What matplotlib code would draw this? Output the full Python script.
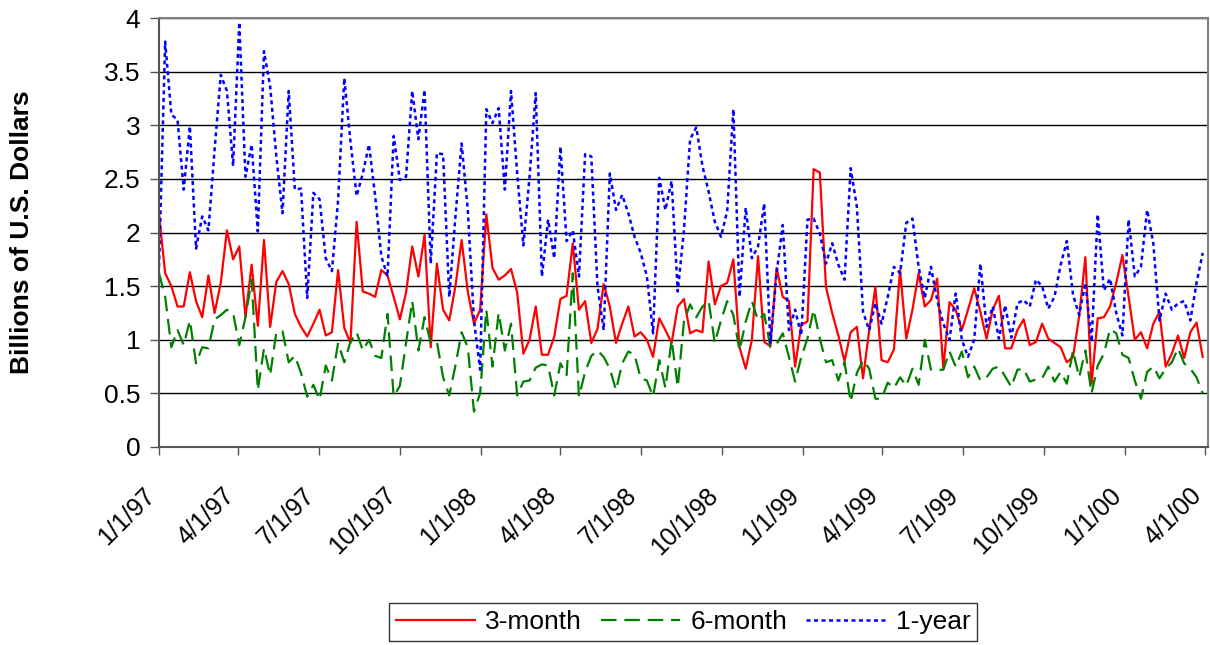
import matplotlib
matplotlib.use('Agg')
import matplotlib.pyplot as plt
import matplotlib.dates as mdates
from matplotlib.ticker import FuncFormatter, MultipleLocator
from matplotlib.transforms import blended_transform_factory, offset_copy
import pandas as pd

plt.rcParams['font.family'] = ['Liberation Sans', 'DejaVu Sans']

# weekly auction amounts, billions of US dollars, starting first week of 1997
three_month = [
    2.17, 1.62, 1.50, 1.31, 1.31, 1.63, 1.36, 1.21, 1.60, 1.25,
    1.53, 2.02, 1.75, 1.87, 1.21, 1.70, 1.13, 1.93, 1.12, 1.54,
    1.64, 1.52, 1.24, 1.12, 1.03, 1.15, 1.28, 1.04, 1.07, 1.65,
    1.11, 0.97, 2.10, 1.45, 1.43, 1.40, 1.65, 1.60, 1.40, 1.19,
    1.44, 1.87, 1.59, 1.98, 0.93, 1.71, 1.28, 1.18, 1.50, 1.93,
    1.45, 1.15, 1.28, 2.17, 1.67, 1.56, 1.60, 1.66, 1.44, 0.87,
    1.00, 1.31, 0.86, 0.86, 1.03, 1.38, 1.41, 1.90, 1.28, 1.36,
    0.97, 1.10, 1.52, 1.31, 0.97, 1.15, 1.31, 1.03, 1.07, 1.00,
    0.84, 1.20, 1.09, 0.97, 1.31, 1.38, 1.06, 1.09, 1.07, 1.73,
    1.33, 1.50, 1.53, 1.75, 0.93, 0.73, 1.00, 1.78, 0.98, 0.94,
    1.67, 1.40, 1.36, 0.75, 1.14, 1.17, 2.59, 2.56, 1.49, 1.25,
    1.04, 0.80, 1.07, 1.12, 0.64, 1.09, 1.49, 0.81, 0.79, 0.91,
    1.65, 1.01, 1.28, 1.62, 1.31, 1.37, 1.57, 0.73, 1.35, 1.28,
    1.09, 1.28, 1.48, 1.26, 1.01, 1.28, 1.41, 0.92, 0.92, 1.09,
    1.19, 0.95, 0.98, 1.15, 1.01, 0.97, 0.93, 0.79, 0.84, 1.22,
    1.77, 0.59, 1.20, 1.21, 1.31, 1.53, 1.79, 1.40, 1.00, 1.07,
    0.92, 1.15, 1.26, 0.75, 0.87, 1.04, 0.83, 1.07, 1.16, 0.84,
]

six_month = [
    1.62, 1.40, 0.93, 1.09, 0.95, 1.18, 0.78, 0.93, 0.92, 1.19,
    1.23, 1.28, 1.25, 0.95, 1.21, 1.56, 0.53, 0.92, 0.67, 1.07,
    1.08, 0.79, 0.85, 0.69, 0.47, 0.58, 0.44, 0.76, 0.62, 0.97,
    0.79, 0.98, 1.07, 0.90, 1.00, 0.85, 0.83, 1.24, 0.47, 0.57,
    0.97, 1.36, 0.90, 1.21, 0.97, 0.98, 0.65, 0.48, 0.76, 1.07,
    0.93, 0.33, 0.50, 1.28, 0.75, 1.25, 0.90, 1.15, 0.48, 0.61,
    0.62, 0.74, 0.77, 0.76, 0.48, 0.78, 0.67, 1.62, 0.47, 0.70,
    0.85, 0.90, 0.84, 0.73, 0.53, 0.78, 0.89, 0.86, 0.64, 0.62,
    0.47, 0.81, 0.55, 1.00, 0.56, 1.17, 1.33, 1.21, 1.31, 1.36,
    0.97, 1.18, 1.36, 1.23, 0.90, 1.17, 1.36, 1.18, 1.24, 0.93,
    0.96, 1.06, 0.84, 0.61, 0.84, 1.01, 1.28, 1.01, 0.79, 0.81,
    0.62, 0.79, 0.42, 0.69, 0.81, 0.73, 0.45, 0.45, 0.60, 0.55,
    0.65, 0.57, 0.73, 0.58, 1.00, 0.72, 0.72, 0.72, 0.89, 0.75,
    0.89, 0.65, 0.75, 0.62, 0.65, 0.73, 0.75, 0.66, 0.56, 0.72,
    0.73, 0.61, 0.63, 0.64, 0.75, 0.61, 0.70, 0.59, 0.90, 0.65,
    0.90, 0.50, 0.76, 0.87, 1.10, 1.06, 0.86, 0.83, 0.62, 0.45,
    0.70, 0.75, 0.64, 0.73, 0.79, 0.92, 0.78, 0.73, 0.65, 0.50,
]

one_year = [
    1.68, 3.78, 3.10, 3.05, 2.40, 2.99, 1.85, 2.15, 2.02, 2.77,
    3.47, 3.32, 2.62, 3.96, 2.52, 2.82, 2.01, 3.69, 3.36, 2.71,
    2.18, 3.32, 2.40, 2.41, 1.39, 2.37, 2.31, 1.76, 1.64, 2.30,
    3.44, 2.85, 2.34, 2.55, 2.82, 2.34, 1.78, 1.59, 2.90, 2.49,
    2.52, 3.32, 2.87, 3.33, 1.71, 2.74, 2.73, 1.40, 2.15, 2.83,
    2.21, 1.18, 0.72, 3.15, 3.02, 3.16, 2.40, 3.32, 2.55, 1.88,
    2.52, 3.30, 1.59, 2.12, 1.76, 2.80, 1.92, 2.02, 1.59, 2.73,
    2.71, 1.50, 1.09, 2.55, 2.21, 2.35, 2.18, 1.96, 1.81, 1.59,
    1.06, 2.51, 2.21, 2.48, 1.45, 2.02, 2.87, 2.98, 2.62, 2.38,
    2.10, 1.96, 2.20, 3.15, 1.40, 2.23, 1.76, 1.87, 2.27, 0.97,
    1.62, 2.07, 1.09, 1.28, 1.04, 2.12, 2.13, 1.99, 1.71, 1.90,
    1.70, 1.56, 2.60, 2.24, 1.26, 1.09, 1.34, 1.15, 1.40, 1.68,
    1.62, 2.09, 2.13, 1.68, 1.39, 1.68, 1.37, 1.15, 1.00, 1.43,
    1.00, 0.84, 1.00, 1.71, 1.12, 1.31, 1.01, 1.32, 1.02, 1.34,
    1.37, 1.31, 1.56, 1.50, 1.29, 1.40, 1.70, 1.92, 1.42, 1.23,
    1.53, 0.98, 2.17, 1.46, 1.57, 1.25, 1.04, 2.12, 1.59, 1.68,
    2.21, 1.90, 1.18, 1.43, 1.28, 1.34, 1.36, 1.18, 1.53, 1.81,
]

weeks = pd.date_range('1997-01-01', periods=len(three_month), freq='7D')
quarters = pd.date_range('1997-01-01', '2000-04-01', freq='QS')
quarter_labels = [f'{d.month}/{d.day}/{d.year % 100:02d}' for d in quarters]

fig = plt.figure(figsize=(12.1, 6.45), dpi=100)
ax = fig.add_axes([159 / 1210, 1 - 447 / 645, 1049 / 1210, 429 / 645])

l1, = ax.plot(weeks, three_month, color='#ff0000', lw=1.6, label='3-month')
l2, = ax.plot(weeks, six_month, color='#008000', lw=1.6, dashes=(7, 3.5), label='6-month')
l3, = ax.plot(weeks, one_year, color='#0000ff', lw=1.8, dashes=(1.6, 1.4), label='1-year')

ax.set_ylim(0, 4)
ax.set_xlim(pd.Timestamp('1997-01-01'), pd.Timestamp('2000-04-04'))
ax.yaxis.set_major_locator(MultipleLocator(0.5))
ax.yaxis.set_major_formatter(FuncFormatter(lambda v, p: f'{v:g}'))
ax.set_xticks(quarters)
ax.tick_params(axis='x', labelbottom=False)

ax.grid(axis='y', color='black', lw=1)
ax.set_axisbelow(True)
for side in ['top', 'right']:
    ax.spines[side].set_color('#808080')
    ax.spines[side].set_linewidth(1.5)
for side in ['left', 'bottom']:
    ax.spines[side].set_color('#555555')
    ax.spines[side].set_linewidth(1.5)

ax.tick_params(axis='y', length=6.5, width=1, color='#555555', labelsize=19, pad=7)
ax.tick_params(axis='x', length=6, width=1, color='#555555')

# rotated date labels, top-right corner placed down-left of each tick
lab_trans = offset_copy(blended_transform_factory(ax.transData, ax.transAxes),
                        fig=fig, x=-16, y=-36, units='dots')
for d, s in zip(quarters, quarter_labels):
    ax.text(d, 0, s, transform=lab_trans, rotation=45, rotation_mode='anchor',
            ha='right', va='top', fontsize=18, clip_on=False)

ax.set_ylabel('Billions of U.S. Dollars', fontsize=19, fontweight='bold')
ax.yaxis.set_label_coords((34 - 159) / 1049, 0.5)

leg = fig.legend(handles=[l1, l2, l3], loc='center', bbox_to_anchor=(683 / 1210, 1 - 622 / 645),
                 ncol=3, fontsize=19, frameon=True, fancybox=False, edgecolor='black',
                 handlelength=3.0, handletextpad=0.4, columnspacing=0.7, borderpad=0.25)
leg.get_frame().set_linewidth(1)

fig.savefig('out.png', dpi=100)
